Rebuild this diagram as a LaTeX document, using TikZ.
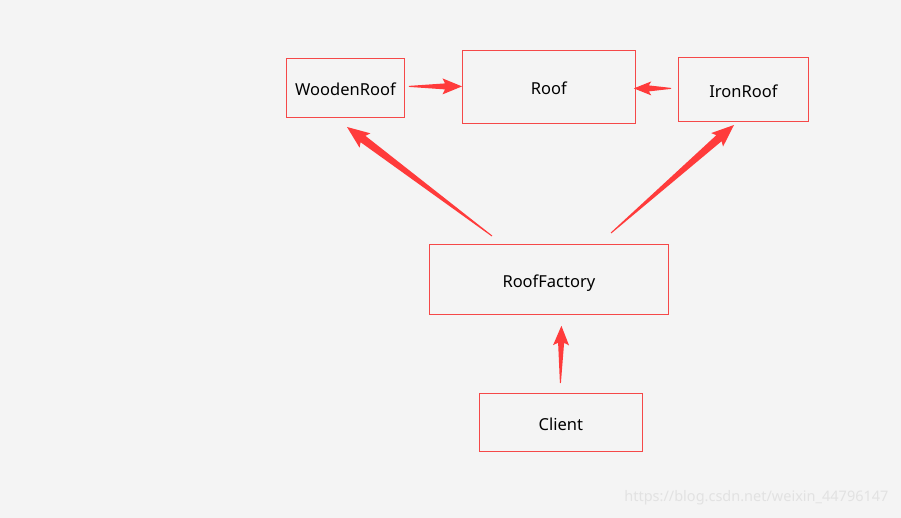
\documentclass[tikz,border=0pt]{standalone}
\usepackage{fontspec}
\setmainfont{Noto Sans}
\usetikzlibrary{calc}
\definecolor{bg}{HTML}{F4F4F4}
\definecolor{boxred}{HTML}{F54848}
\definecolor{arrred}{HTML}{FF3B3B}
\definecolor{wm}{HTML}{E2E2E2}
\tikzset{
  box/.style={draw=boxred, line width=0.8pt, inner sep=0pt, anchor=north west,
    font=\fontsize{16.5}{18}\selectfont, text=black},
}
\newcommand{\lowtxt}[1]{\raisebox{-8pt}[0pt][0pt]{#1}}
% #1 start, #2 tip, #3 head length, #4 head half width, #5 shaft half width
\newcommand{\taperarrow}[5]{%
  \path coordinate (tB) at ($(#2)!#3!(#1)$)
        coordinate (tN) at ($(#2)!#3+2.5pt!(#1)$);
  \fill[arrred] ($(#1)!0.5pt!90:(#2)$)
     -- ($(tB)!#5!90:(#2)$) -- ($(tN)!#4!90:(#2)$) -- (#2)
     -- ($(tN)!#4!-90:(#2)$) -- ($(tB)!#5!-90:(#2)$)
     -- ($(#1)!0.5pt!-90:(#2)$) -- cycle;
}
\begin{document}
\begin{tikzpicture}[x=1pt,y=-1pt]
\fill[bg] (0,0) rectangle (901,518);
\useasboundingbox (0,0) rectangle (901,518);

\node[box, minimum width=118pt, minimum height=59pt] (wood) at (286,58) {\lowtxt{WoodenRoof}};
\node[box, minimum width=173pt, minimum height=73pt] (roof) at (462,50) {\lowtxt{Roof}};
\node[box, minimum width=130pt, minimum height=64pt] (iron) at (678,57) {\lowtxt{IronRoof}};
\node[box, minimum width=239pt, minimum height=70pt] (fact) at (429,244) {\lowtxt{RoofFactory}};
\node[box, minimum width=163pt, minimum height=58pt] (client) at (479,393) {\lowtxt{Client}};

\coordinate (a1s) at ($(wood.east)+(4,-1.5)$);
\coordinate (a1t) at ($(roof.west)+(0,-0.5)$);
\coordinate (a2s) at ($(iron.west)+(-7,-1)$);
\coordinate (a2t) at ($(roof.east)+(-2,1.5)$);
\coordinate (a3s) at (492,236);
\coordinate (a3t) at (347,127);
\coordinate (a4s) at (611,233);
\coordinate (a4t) at (734,125);
\coordinate (a5s) at ($(client.north)+(-0.5,-10)$);
\coordinate (a5t) at ($(fact.south)+(12.5,11)$);

\taperarrow{a1s}{a1t}{17pt}{8pt}{3pt}
\taperarrow{a2s}{a2t}{15pt}{7pt}{3pt}
\taperarrow{a3s}{a3t}{20pt}{9pt}{4pt}
\taperarrow{a4s}{a4t}{20pt}{9pt}{4pt}
\taperarrow{a5s}{a5t}{17pt}{8pt}{3pt}

\node[text=wm, font=\fontsize{14.5}{16}\selectfont, anchor=east] (mark) at (892,498) {https://blog.csdn.net/weixin\_44796147};
\end{tikzpicture}
\end{document}
